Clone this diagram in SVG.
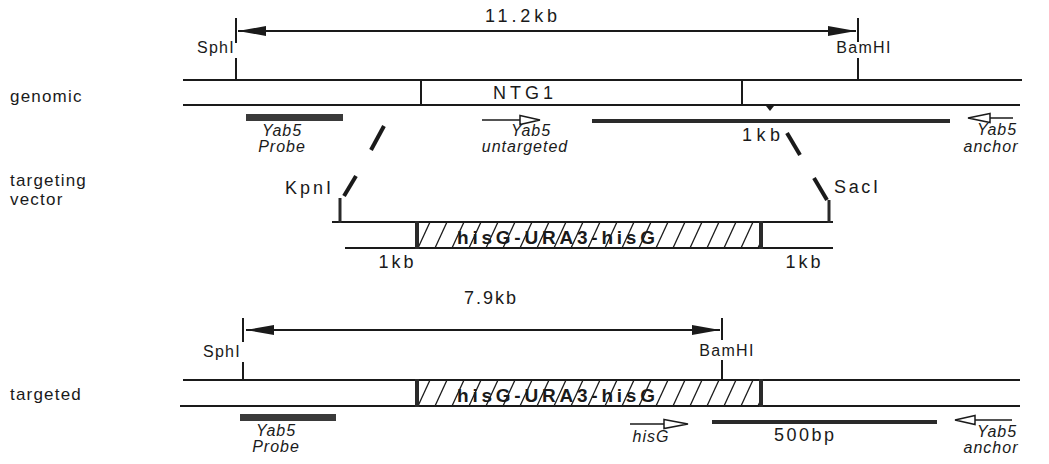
<svg xmlns="http://www.w3.org/2000/svg" width="1049" height="464" viewBox="0 0 1049 464">
<defs>
<style>
text{font-family:"Liberation Sans",Arial,sans-serif;fill:#1a1a1a}
.lbl{font-size:17px;letter-spacing:1.2px}
.sm{font-size:18px;text-anchor:middle}
.re{font-size:16px;text-anchor:middle;letter-spacing:1.3px}
.it{font-size:16px;font-style:italic;text-anchor:middle;letter-spacing:1px}
.hx{font-size:19px;font-weight:bold;text-anchor:middle}
.ln{stroke:#1a1a1a;stroke-width:2;fill:none}
.tk{stroke:#1a1a1a;stroke-width:2}
.thk{stroke:#2a2a2a;stroke-width:4;fill:none}
.bar{fill:#3a3a3a}
.dash{stroke:#1a1a1a;stroke-width:4}
.edge{stroke:#2a2a2a;stroke-width:4}
.prim{stroke:#1a1a1a;stroke-width:1.5;fill:none}
.open{stroke:#1a1a1a;stroke-width:1.5;fill:#fff}
</style>
<pattern id="hatch1" patternUnits="userSpaceOnUse" x="416" y="222" width="17" height="26">
<line x1="2" y1="26" x2="14" y2="0" stroke="#1a1a1a" stroke-width="1.3"/>
</pattern>
<pattern id="hatch2" patternUnits="userSpaceOnUse" x="416" y="380" width="17" height="26">
<line x1="2" y1="26" x2="14" y2="0" stroke="#1a1a1a" stroke-width="1.3"/>
</pattern>
<marker id="ah" markerWidth="30" markerHeight="12" refX="28" refY="6" orient="auto-start-reverse" markerUnits="userSpaceOnUse">
<path d="M0,1 L28,6 L0,11 Z" fill="#1a1a1a"/>
</marker>
</defs>

<g id="row-labels">
<text class="lbl" x="10" y="102">genomic</text>
<text class="lbl" x="10" y="186">targeting</text>
<text class="lbl" x="10" y="205">vector</text>
<text class="lbl" x="10" y="400">targeted</text>
</g>

<g id="genomic">
<line class="ln" x1="183" y1="80" x2="1022" y2="80"/>
<line class="ln" x1="183" y1="105" x2="1020" y2="105"/>
<line class="ln" x1="421" y1="80" x2="421" y2="105"/>
<line class="ln" x1="742" y1="80" x2="742" y2="105"/>
<text class="sm" x="523" y="99" textLength="60" lengthAdjust="spacing">NTG1</text>
<line class="tk" x1="236" y1="58" x2="236" y2="80"/>
<line class="tk" x1="858" y1="58" x2="858" y2="80"/>
<text class="re" x="216" y="53">SphI</text>
<text class="re" x="864" y="53">BamHI</text>
<path d="M766,106 L770,111 L774,106 Z" fill="#1a1a1a"/>
</g>

<g id="genomic-probe">
<rect class="bar" x="246" y="114" width="97" height="7"/>
<text class="it" x="282" y="136">Yab5</text>
<text class="it" x="282" y="152">Probe</text>
</g>

<g id="genomic-pcr">
<line class="prim" x1="482" y1="120" x2="520" y2="120"/>
<path class="open" d="M520,115.5 L540,120 L520,124.5 Z"/>
<text class="it" x="531" y="136">Yab5</text>
<text class="it" x="525" y="152">untargeted</text>
<line class="thk" x1="592" y1="121" x2="950" y2="121"/>
<text class="sm" x="761" y="141" textLength="38" lengthAdjust="spacing">1kb</text>
<line class="prim" x1="990" y1="118" x2="1013" y2="118"/>
<path class="open" d="M990,113.5 L968,118 L990,122.5 Z"/>
<text class="it" x="997" y="135">Yab5</text>
<text class="it" x="991" y="152">anchor</text>
</g>

<g id="targeting-vector">
<line class="ln" x1="332" y1="222" x2="833" y2="222"/>
<line class="ln" x1="345" y1="248" x2="833" y2="248"/>
<rect x="416" y="222" width="346" height="26" fill="url(#hatch1)"/>
<line class="edge" x1="417" y1="221" x2="417" y2="249"/>
<line class="edge" x1="761" y1="221" x2="761" y2="249"/>
<text class="hx" x="556" y="244" textLength="198" lengthAdjust="spacing">hisG-URA3-hisG</text>
<line x1="340" y1="198" x2="340" y2="223" stroke="#2a2a2a" stroke-width="3"/>
<line x1="829" y1="200" x2="829" y2="223" stroke="#2a2a2a" stroke-width="3"/>
<text class="sm" x="308" y="194" textLength="46" lengthAdjust="spacing">KpnI</text>
<text class="sm" x="856" y="193" textLength="44" lengthAdjust="spacing">SacI</text>
<text class="sm" x="396" y="268" textLength="35" lengthAdjust="spacing">1kb</text>
<text class="sm" x="803" y="268" textLength="35" lengthAdjust="spacing">1kb</text>
</g>

<g id="targeted">
<line class="ln" x1="183" y1="380" x2="1020" y2="380"/>
<line class="ln" x1="180" y1="406" x2="1020" y2="406"/>
<rect x="416" y="380" width="346" height="26" fill="url(#hatch2)"/>
<line class="edge" x1="417" y1="379" x2="417" y2="407"/>
<line class="edge" x1="761" y1="379" x2="761" y2="407"/>
<text class="hx" x="556" y="402" textLength="198" lengthAdjust="spacing">hisG-URA3-hisG</text>
<line class="tk" x1="243" y1="362" x2="243" y2="380"/>
<line class="tk" x1="722" y1="360" x2="722" y2="380"/>
<text class="re" x="222" y="357">SphI</text>
<text class="re" x="727" y="356">BamHI</text>
</g>

<g id="targeted-probe">
<rect class="bar" x="240" y="414" width="96" height="7"/>
<text class="it" x="276" y="436">Yab5</text>
<text class="it" x="276" y="452">Probe</text>
</g>

<g id="targeted-pcr">
<line class="prim" x1="630" y1="424" x2="664" y2="424"/>
<path class="open" d="M664,419.5 L688,424 L664,428.5 Z"/>
<text class="it" x="651" y="442">hisG</text>
<line class="thk" x1="712" y1="422" x2="937" y2="422"/>
<text class="sm" x="804" y="441" textLength="60" lengthAdjust="spacing">500bp</text>
<line class="prim" x1="975" y1="420" x2="1012" y2="420"/>
<path class="open" d="M975,415.5 L955,420 L975,424.5 Z"/>
<text class="it" x="997" y="437">Yab5</text>
<text class="it" x="991" y="453">anchor</text>
</g>

<g id="connectors">
<line class="tk" x1="236" y1="18" x2="236" y2="43"/>
<line class="tk" x1="858" y1="18" x2="858" y2="42"/>
<line class="ln" x1="238" y1="31" x2="856" y2="31" marker-start="url(#ah)" marker-end="url(#ah)"/>
<text class="sm" x="521" y="22" textLength="72" lengthAdjust="spacing">11.2kb</text>
<line class="tk" x1="243" y1="318" x2="243" y2="342"/>
<line class="tk" x1="722" y1="318" x2="722" y2="340"/>
<line class="ln" x1="246" y1="330" x2="720" y2="330" marker-start="url(#ah)" marker-end="url(#ah)"/>
<text class="sm" x="490" y="304" textLength="52" lengthAdjust="spacing">7.9kb</text>
<line class="dash" x1="384" y1="126" x2="371" y2="150"/>
<line class="dash" x1="356" y1="176" x2="344" y2="196"/>
<line class="dash" x1="787" y1="133" x2="800" y2="155"/>
<line class="dash" x1="814" y1="178" x2="827" y2="200"/>
</g>
</svg>
